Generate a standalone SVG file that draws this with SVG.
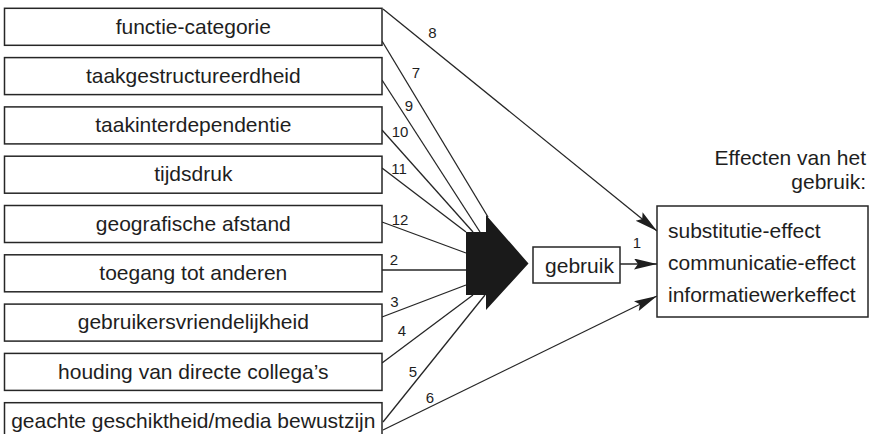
<svg xmlns="http://www.w3.org/2000/svg" width="874" height="434" viewBox="0 0 874 434">
<defs>
<style>
.box{fill:#fff;stroke:#262626;stroke-width:1.5}
.t{font-family:"Liberation Sans",Arial,Helvetica,sans-serif;font-size:21px;fill:#1e1e1e}
.c{text-anchor:middle}
.n{font-family:"Liberation Sans",Arial,Helvetica,sans-serif;font-size:15px;fill:#1e1e1e;text-anchor:middle}
.ln{stroke:#262626;stroke-width:1.3;fill:none}
.arr{marker-end:url(#ah)}
</style>
<marker id="ah" markerUnits="userSpaceOnUse" markerWidth="24" markerHeight="12" refX="23" refY="5.5" orient="auto" viewBox="0 0 24 12">
<path d="M0,0 L23,5.5 L0,11 L4,5.5 z" fill="#1e1e1e"/>
</marker>
</defs>
<rect width="874" height="434" fill="#fff"/>

<g id="connectors">
<line class="ln arr" x1="383" y1="9" x2="657" y2="231"/>
<line class="ln" x1="382" y1="41" x2="488" y2="217"/>
<line class="ln" x1="382" y1="80" x2="480" y2="232"/>
<line class="ln" x1="382" y1="130" x2="473" y2="232"/>
<line class="ln" x1="382" y1="168" x2="466" y2="232"/>
<line class="ln" x1="382" y1="222" x2="466" y2="253"/>
<line class="ln" x1="382" y1="270" x2="466" y2="270"/>
<line class="ln" x1="382" y1="317" x2="466" y2="285"/>
<line class="ln" x1="382" y1="363" x2="473" y2="295"/>
<line class="ln" x1="383" y1="422" x2="485" y2="295"/>
<line class="ln arr" x1="383" y1="430" x2="657" y2="296"/>
<line class="ln arr" x1="620" y1="264" x2="657" y2="264"/>
<text class="n" x="432.5" y="37.5">8</text>
<text class="n" x="416" y="78">7</text>
<text class="n" x="409" y="110.5">9</text>
<text class="n" x="400" y="136.5">10</text>
<text class="n" x="399" y="174">11</text>
<text class="n" x="400" y="225">12</text>
<text class="n" x="394" y="265">2</text>
<text class="n" x="394.5" y="306.5">3</text>
<text class="n" x="402" y="336">4</text>
<text class="n" x="413" y="376.5">5</text>
<text class="n" x="430" y="403">6</text>
<text class="n" x="637" y="248">1</text>
</g>

<g id="n1"><rect class="box" x="4.5" y="8.3" width="377.5" height="37"/><text class="t c" x="193.3" y="33.5">functie-categorie</text></g>
<g id="n2"><rect class="box" x="4.5" y="57.6" width="377.5" height="37"/><text class="t c" x="193.3" y="82.8">taakgestructureerdheid</text></g>
<g id="n3"><rect class="box" x="4.5" y="106.9" width="377.5" height="37"/><text class="t c" x="193.3" y="132.1">taakinterdependentie</text></g>
<g id="n4"><rect class="box" x="4.5" y="156.2" width="377.5" height="37"/><text class="t c" x="193.3" y="181.4">tijdsdruk</text></g>
<g id="n5"><rect class="box" x="4.5" y="205.5" width="377.5" height="37"/><text class="t c" x="193.3" y="230.7">geografische afstand</text></g>
<g id="n6"><rect class="box" x="4.5" y="254.8" width="377.5" height="37"/><text class="t c" x="193.3" y="280">toegang tot anderen</text></g>
<g id="n7"><rect class="box" x="4.5" y="304.1" width="377.5" height="37"/><text class="t c" x="193.3" y="329.3">gebruikersvriendelijkheid</text></g>
<g id="n8"><rect class="box" x="4.5" y="353.4" width="377.5" height="37"/><text class="t c" x="193.3" y="378.6">houding van directe collega’s</text></g>
<g id="n9"><rect class="box" x="4.5" y="402.7" width="377.5" height="37"/><text class="t c" x="193.3" y="428">geachte geschiktheid/media bewustzijn</text></g>

<g id="bigarrow"><polygon points="466,232 486,232 486,215 528.5,263.5 486,310 486,295 466,295" fill="#1a1a1a"/></g>

<g id="gebruik"><rect class="box" x="533" y="247" width="87" height="36"/><text class="t c" x="579.5" y="273">gebruik</text></g>

<g id="effecten">
<text class="t" x="866" y="165" text-anchor="end">Effecten van het</text>
<text class="t" x="866" y="189" text-anchor="end">gebruik:</text>
<rect class="box" x="657" y="206" width="211" height="111"/>
<text class="t" x="668" y="238">substitutie-effect</text>
<text class="t" x="668" y="269.5">communicatie-effect</text>
<text class="t" x="668" y="301.5">informatiewerkeffect</text>
</g>
</svg>
